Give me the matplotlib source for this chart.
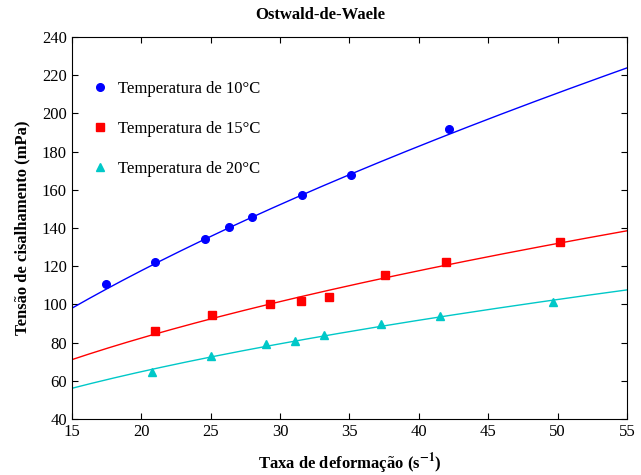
import numpy as np
import matplotlib
matplotlib.use('Agg')
from matplotlib import pyplot as plt

plt.rcParams['font.family'] = ['Liberation Serif', 'DejaVu Serif']
plt.rcParams['mathtext.fontset'] = 'stix'

# dados experimentais (taxa de deformação, tensão)
x_10 = [17.5, 21.0, 24.6, 26.3, 28.0, 31.6, 35.1, 42.2]
y_10 = [110.5, 122, 134, 140.5, 145.5, 157.5, 167.5, 192]
x_15 = [21.0, 25.1, 29.3, 31.5, 33.5, 37.6, 42.0, 50.2]
y_15 = [86, 94.5, 100, 102, 104, 115.5, 122, 132.5]
x_20 = [20.8, 25.0, 29.0, 31.1, 33.2, 37.3, 41.5, 49.7]
y_20 = [64.5, 73, 79, 81, 84, 89.5, 94, 101.5]

# parâmetros do modelo tau = K * gamma^n
K = [17.5, 17.66, 14.39]
n = [0.636, 0.514, 0.502]

labels = ['Temperatura de 10°C', 'Temperatura de 15°C', 'Temperatura de 20°C']
colors = ['#0000ff', '#ff0000', '#00c8c8']
markers = ['o', 's', '^']

fig, ax = plt.subplots(figsize=(6.41, 4.75), dpi=100)
fig.subplots_adjust(left=0.112, right=0.978, top=0.922, bottom=0.118)

gamma = np.linspace(15, 55, 200)
for xs, ys, k, nn, lab, c, m in zip([x_10, x_15, x_20], [y_10, y_15, y_20], K, n, labels, colors, markers):
    ax.plot(xs, ys, linestyle='none', marker=m, color=c, markersize=5.5, label=lab)
    ax.plot(gamma, k * gamma ** nn, color=c, linewidth=1)

ax.set_xlim(15, 55)
ax.set_ylim(40, 240)
ax.set_xticks(np.arange(15, 56, 5))
ax.set_yticks(np.arange(40, 241, 20))
ax.tick_params(direction='in', top=True, right=True, labelsize=12, length=4)
fig.suptitle('Ostwald-de-Waele', x=0.5, y=0.985, fontsize=12, fontweight='bold')
ax.set_xlabel('Taxa de deformação (s$^{\\mathbf{-1}}$)', fontsize=12, fontweight='bold', labelpad=8)
ax.set_ylabel('Tensão de cisalhamento (mPa)', fontsize=12, fontweight='bold', labelpad=8)

ax.legend(loc='upper left', frameon=False, fontsize=12, labelspacing=1.45,
          handletextpad=0.3, bbox_to_anchor=(0.002, 0.925), handlelength=1.5)

fig.savefig('out.png')
